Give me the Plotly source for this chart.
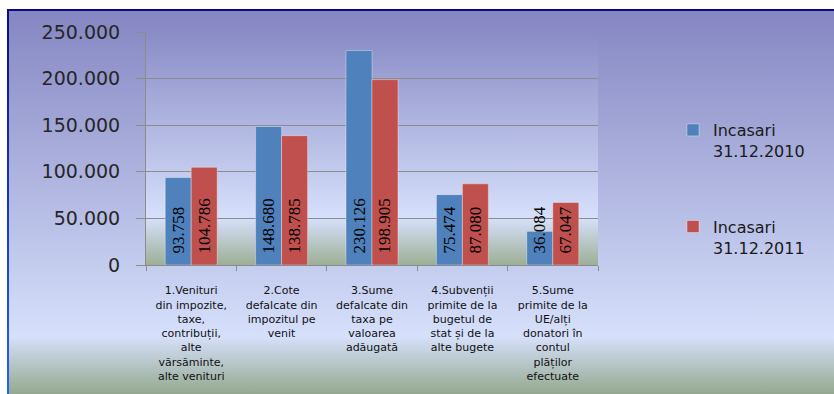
import base64
import plotly.graph_objects as go

# ---- data -------------------------------------------------------------
categories = [
    "1.Venituri<br>din impozite,<br>taxe,<br>contribuții,<br>alte<br>vărsăminte,<br>alte venituri",
    "2.Cote<br>defalcate din<br>impozitul pe<br>venit",
    "3.Sume<br>defalcate din<br>taxa pe<br>valoarea<br>adăugată",
    "4.Subvenții<br>primite de la<br>bugetul de<br>stat și de la<br>alte bugete",
    "5.Sume<br>primite de la<br>UE/alți<br>donatori în<br>contul<br>plăților<br>efectuate",
]
incasari_2010 = [93758, 148680, 230126, 75474, 36084]
incasari_2011 = [104786, 138785, 198905, 87080, 67047]
series_names = ["Incasari<br>31.12.2010", "Incasari<br>31.12.2011"]
y_ticks = [0, 50000, 100000, 150000, 200000, 250000]

# ---- geometry ---------------------------------------------------------
W, H = 834, 394
L, R, T, B = 146, 236, 32, 129
PW, PH = W - L - R, H - T - B

BLUE = "#4F81BD"
RED = "#C0504D"
GRID = "#8C8C8C"


def svg_uri(svg):
    return "data:image/svg+xml;base64," + base64.b64encode(svg.encode("utf-8")).decode("ascii")


# chart area: white page, framed gradient panel (blue -> pale -> green-grey)
frame_svg = f"""<svg xmlns='http://www.w3.org/2000/svg' width='{W}' height='{H}' viewBox='0 0 {W} {H}' preserveAspectRatio='none'>
<defs>
<linearGradient id='bg' x1='0' y1='0' x2='0' y2='1'>
<stop offset='0' stop-color='#8586C2'/>
<stop offset='0.85' stop-color='#D6E0FB'/>
<stop offset='1' stop-color='#94A98F'/>
</linearGradient>
<linearGradient id='edge' x1='0' y1='0' x2='0' y2='1'>
<stop offset='0' stop-color='#0A0A88'/>
<stop offset='1' stop-color='#2463F0'/>
</linearGradient>
</defs>
<rect x='0' y='0' width='{W}' height='{H}' fill='#FFFFFF'/>
<rect x='9' y='11' width='{W - 9}' height='{H - 11}' fill='url(#bg)'/>
<rect x='7' y='9' width='{W - 7}' height='2' fill='#0A0A88'/>
<rect x='7' y='9' width='2' height='{H - 9}' fill='url(#edge)'/>
</svg>"""

# plot area gradient
plot_svg = """<svg xmlns='http://www.w3.org/2000/svg' width='100' height='100' viewBox='0 0 100 100' preserveAspectRatio='none'>
<defs>
<linearGradient id='pg' x1='0' y1='0' x2='0' y2='1'>
<stop offset='0' stop-color='#8A8CC6'/>
<stop offset='0.8' stop-color='#D6E0FB'/>
<stop offset='1' stop-color='#9CAF95'/>
</linearGradient>
</defs>
<rect x='0' y='0' width='100' height='100' fill='url(#pg)'/>
</svg>"""

label_font = dict(family="Liberation Serif", size=17, color="#000000")

fig = go.Figure()
for name, values, color, group in [
    (series_names[0], incasari_2010, BLUE, "s2010"),
    (series_names[1], incasari_2011, RED, "s2011"),
]:
    fig.add_trace(go.Bar(
        x=categories,
        y=values,
        name=name,
        legendgroup=group,
        marker=dict(color=color, line=dict(color="rgba(255,255,255,0.35)", width=1)),
        # en space keeps the vertical value label a little clear of the baseline
        texttemplate="\u2002%{y:,.0f}",
        textposition="inside",
        insidetextanchor="start",
        textangle=-90,
        constraintext="none",
        textfont=label_font,
        insidetextfont=label_font,
        cliponaxis=False,
        hoverinfo="skip",
    ))

fig.update_layout(
    width=W,
    height=H,
    margin=dict(l=L, r=R, t=T, b=B, pad=0),
    paper_bgcolor="#FFFFFF",
    plot_bgcolor="rgba(0,0,0,0)",
    separators=",.",
    barmode="group",
    bargap=0.425,
    bargroupgap=0,
    showlegend=True,
    legend=dict(
        x=(673 - L) / PW,
        xanchor="left",
        y=(H - B - 113) / PH,
        yanchor="top",
        valign="top",
        tracegroupgap=52,
        bgcolor="rgba(0,0,0,0)",
        font=dict(family="DejaVu Sans", size=16, color="#1A1A1A"),
    ),
    images=[
        dict(source=svg_uri(frame_svg), xref="paper", yref="paper",
             x=-L / PW, y=(H - B) / PH, sizex=W / PW, sizey=H / PH,
             xanchor="left", yanchor="top", sizing="stretch", layer="below"),
        dict(source=svg_uri(plot_svg), xref="paper", yref="paper",
             x=0, y=1, sizex=1, sizey=1,
             xanchor="left", yanchor="top", sizing="stretch", layer="below"),
    ],
    xaxis=dict(
        type="category",
        showgrid=False,
        showline=True,
        linecolor=GRID,
        linewidth=1,
        ticks="outside",
        tickson="boundaries",
        ticklen=5,
        tickcolor=GRID,
        ticklabelstandoff=15,
        tickfont=dict(family="DejaVu Sans", size=11, color="#111111"),
        fixedrange=True,
    ),
    yaxis=dict(
        range=[0, 250000],
        tickvals=y_ticks,
        tickformat=",.0f",
        showgrid=True,
        gridcolor=GRID,
        gridwidth=1,
        zeroline=False,
        showline=True,
        linecolor=GRID,
        linewidth=1,
        ticks="outside",
        ticklen=9,
        tickcolor=GRID,
        ticklabelstandoff=12,
        tickfont=dict(family="DejaVu Sans", size=19, color="#262626"),
        fixedrange=True,
    ),
)

fig.write_html("out.html", config={"displayModeBar": False})
